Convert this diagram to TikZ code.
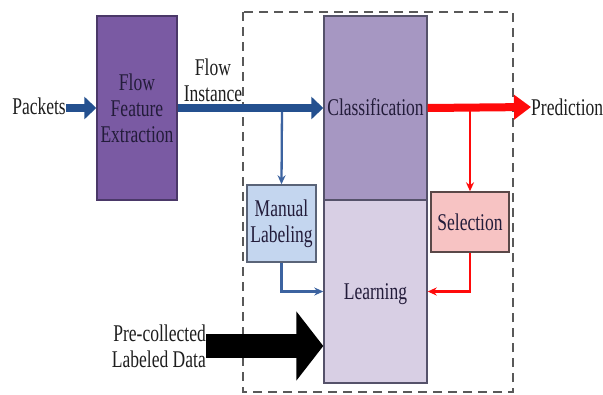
\documentclass[tikz,border=0pt]{standalone}
\usepackage{fontspec}
\setmainfont{Liberation Serif}[FakeStretch=0.73]
\usetikzlibrary{arrows.meta}
\definecolor{ffefill}{HTML}{7A5AA3}
\definecolor{ffedraw}{HTML}{4A3868}
\definecolor{clsfill}{HTML}{A697C2}
\definecolor{lrnfill}{HTML}{D8CFE4}
\definecolor{boxdraw}{HTML}{55526A}
\definecolor{manfill}{HTML}{C4D6EF}
\definecolor{manddraw}{HTML}{5A6478}
\definecolor{selfill}{HTML}{F7C3C3}
\definecolor{seldraw}{HTML}{5A4848}
\definecolor{flowblue}{HTML}{24508F}
\definecolor{thinblue}{HTML}{3C63A0}
\definecolor{flowred}{HTML}{FF0A0A}
\definecolor{intext}{HTML}{231C3A}
\definecolor{outtext}{HTML}{1E1E1E}
\tikzset{
  txt/.style={font=\fontsize{24}{26}\selectfont, align=center, inner sep=0pt},
  blockbox/.style={txt, draw=boxdraw, line width=1.4pt, text=intext, minimum width=#1},
  bigblue/.style={flowblue, line width=8pt, -{Triangle[length=12pt,width=22pt]}},
  bigred/.style={flowred, line width=8pt, -{Triangle[length=17pt,width=24pt]}},
  thinb/.style={thinblue, line width=2.3pt, -{Stealth[length=9pt,width=8pt]}},
  thinr/.style={flowred, line width=2.3pt, -{Stealth[length=9pt,width=8pt]}},
}
\begin{document}
\begin{tikzpicture}[x=1pt,y=-1pt]
\useasboundingbox (0,0) rectangle (603,394);
% dashed region
\draw[draw=black!65, line width=1.8pt, dash pattern=on 9pt off 6pt] (243,12) rectangle (513,392);
% blocks
\node[blockbox=80pt, fill=ffefill, draw=ffedraw, minimum height=184pt] (ffe) at (137,108) {Flow\\Feature\\Extraction};
\node[blockbox=103pt, fill=clsfill, minimum height=184pt] (cls) at (375.5,108) {};
\node[blockbox=103pt, fill=lrnfill, minimum height=183pt] (lrn) at (375.5,291.5) {};
\node[txt, text=intext] (clst) at (375.5,107) {Classification};
\node[txt, text=intext] (lrnt) at (375.5,294) {Learning};
\node[blockbox=69pt, fill=manfill, draw=manddraw, minimum height=77pt] (man) at (281.5,223.5) {Manual\\Labeling};
\node[blockbox=78pt, fill=selfill, draw=seldraw, minimum height=60pt] (sel) at (470,222) {Selection};
% outside texts
\node[txt, text=outtext, anchor=east] (pkt) at (66,106) {Packets};
\node[txt, text=outtext, anchor=west] (pred) at (531,107) {Prediction};
\node[txt, text=outtext] (fi) at (213,80) {Flow\\Instance};
\node[txt, text=outtext, anchor=east, align=right] (pre) at (206,346) {Pre-collected\\Labeled Data};
% branch coordinates
\coordinate (b1) at (282,108);
\coordinate (r1) at (470,108);
% thin branches
\draw[thinb] (b1) -- (man.north);
\draw[thinb] (man.south) |- (lrn.west);
\draw[thinr] (r1) -- (sel.north);
\draw[thinr] (sel.south) |- (lrn.east);
% thick arrows
\draw[bigblue] (pkt.east |- ffe.west) -- (ffe.west);
\draw[bigblue] (ffe.east) -- (cls.west);
\draw[bigred] (cls.east) -- (pred.west);
\draw[black, line width=24pt, -{Triangle[length=27pt,width=68pt]}] (pre.east) -- (lrn.west |- pre.east);
\end{tikzpicture}
\end{document}
